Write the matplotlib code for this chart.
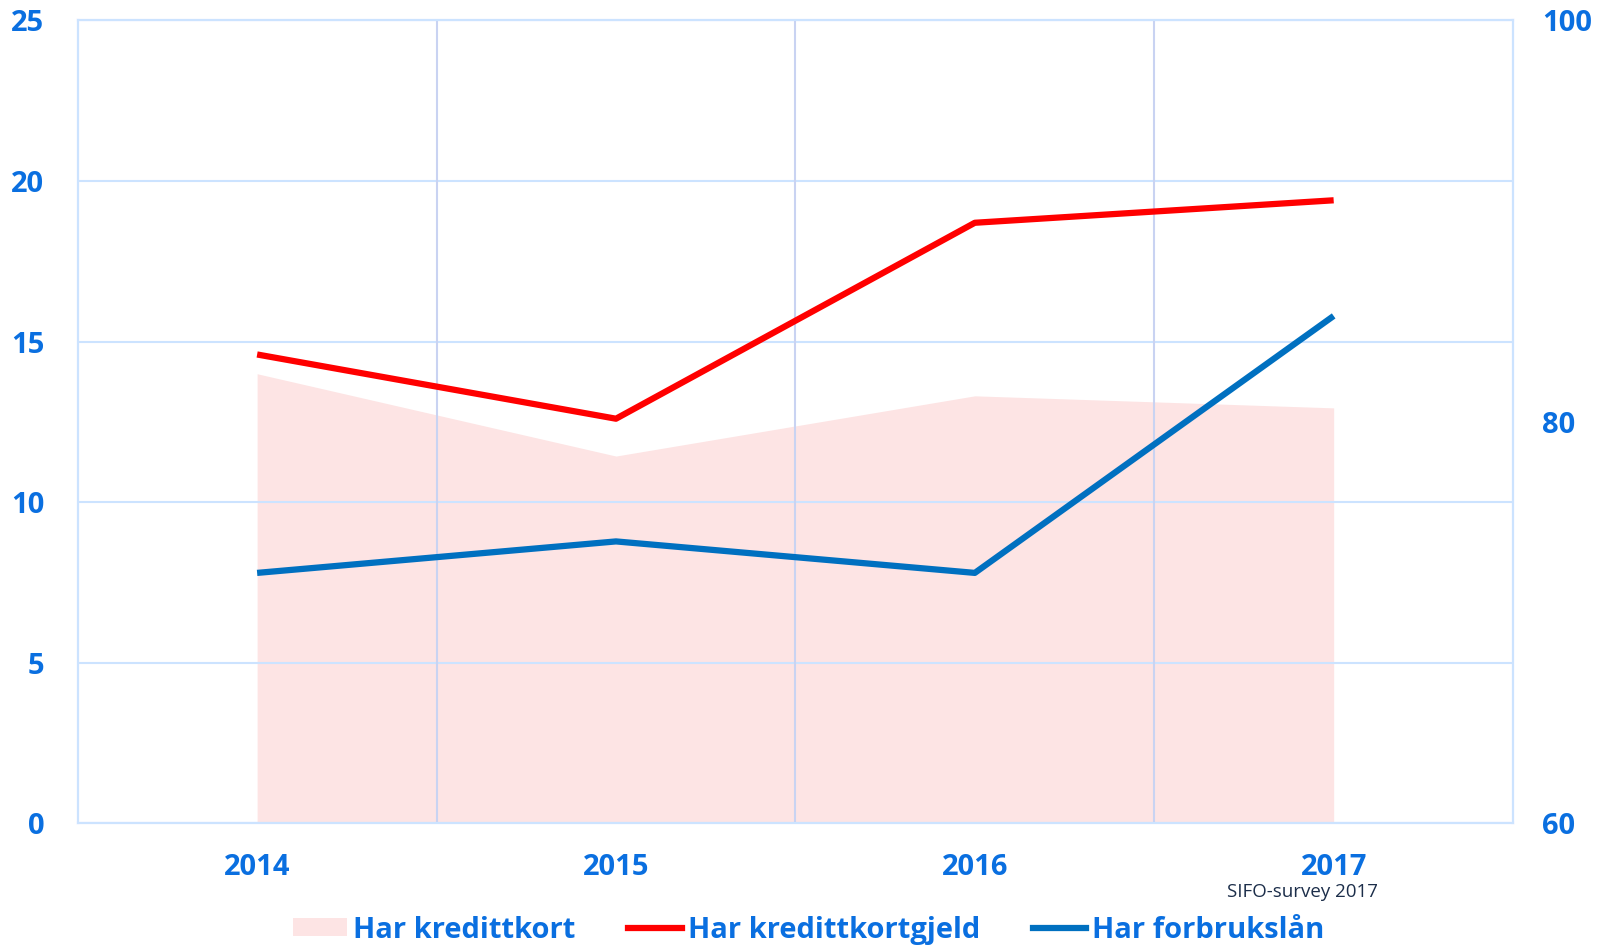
import matplotlib
matplotlib.use("Agg")
import matplotlib.pyplot as plt
from matplotlib.patches import Patch
from matplotlib.lines import Line2D

# data
years = [2014, 2015, 2016, 2017]
har_kredittkort = [82.4, 78.3, 81.3, 80.7]        # right axis (60-100)
har_kredittkortgjeld = [14.6, 12.6, 18.7, 19.4]   # left axis (0-25)
har_forbrukslan = [7.8, 8.78, 7.8, 15.8]          # left axis (0-25)
left_ticks = [0, 5, 10, 15, 20, 25]
right_ticks = [60, 80, 100]

TICK_BLUE = "#0a6fe0"
GRID_H = "#cce3ff"
GRID_V = "#c9d3f2"
FILL = "#fde4e4"
RED = "#ff0000"
BLUE = "#0070c0"

plt.rcParams['font.family'] = ['Open Sans', 'DejaVu Sans']

fig = plt.figure(figsize=(16.02, 9.49), dpi=100)
ax = fig.add_axes([0.0485, 0.1323, 0.896, 0.8462])
ax2 = ax.twinx()
ax.set_zorder(2)
ax2.set_zorder(1)
ax.patch.set_visible(False)

# area on secondary axis
ax2.fill_between(years, right_ticks[0], har_kredittkort, color=FILL, lw=0)
ax2.set_ylim(60, 100)
ax2.set_yticks(right_ticks)

ax.plot(years, har_kredittkortgjeld, color=RED, lw=4.5, solid_capstyle='butt')
ax.plot(years, har_forbrukslan, color=BLUE, lw=4.5, solid_capstyle='butt')

ax.set_xlim(years[0] - 0.5, years[-1] + 0.5)
ax.set_ylim(0, 25)
ax.set_yticks(left_ticks)
ax.set_xticks(years)

# grid: horizontal at y ticks, vertical between categories
for v in left_ticks:
    ax.axhline(v, color=GRID_H, lw=1.5, zorder=0.5)
for y in years[:-1]:
    ax.axvline(y + 0.5, color=GRID_V, lw=1.5, zorder=0.5)

for a in (ax, ax2):
    for s in a.spines.values():
        s.set_color(GRID_H)
        s.set_linewidth(1.5)
    a.tick_params(length=0, labelsize=21, labelcolor=TICK_BLUE)
    for lab in a.get_xticklabels() + a.get_yticklabels():
        lab.set_fontweight('bold')
ax.tick_params(axis='x', pad=21)
ax.tick_params(axis='y', pad=24)
ax2.tick_params(axis='y', pad=21)

fig.text(0.813, 0.060, "SIFO-survey 2017", fontsize=13.5, color="#1c2e4a",
         ha='center', va='center')

handles = [Patch(facecolor=FILL, edgecolor='none'),
           Line2D([], [], color=RED, lw=4.5),
           Line2D([], [], color=BLUE, lw=4.5)]
labels = ["Har kredittkort", "Har kredittkortgjeld", "Har forbrukslån"]
leg = fig.legend(handles, labels, loc='center', bbox_to_anchor=(0.505, 0.020),
                 ncol=3, frameon=False, fontsize=21, handlelength=1.85,
                 handletextpad=0.2, columnspacing=1.8, handleheight=0.6)
for t in leg.get_texts():
    t.set_color(TICK_BLUE)
    t.set_fontweight('bold')

fig.savefig("out.png", dpi=100)
